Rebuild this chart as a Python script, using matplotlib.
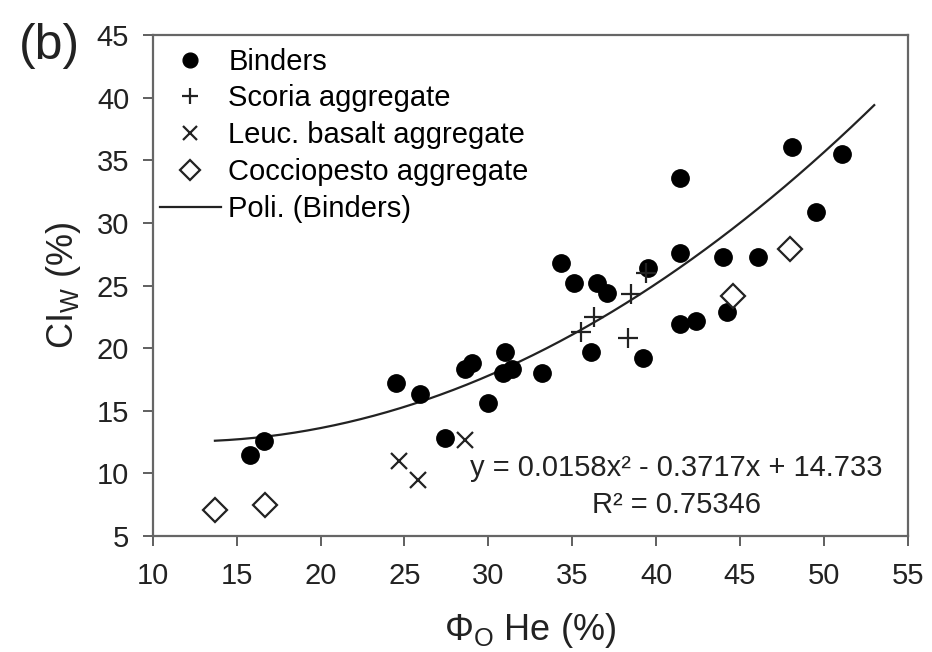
import matplotlib.pyplot as plt
import numpy as np

plt.rcParams['font.family'] = ['Liberation Sans', 'DejaVu Sans']
plt.rcParams['mathtext.fontset'] = 'custom'
plt.rcParams['mathtext.rm'] = 'Liberation Sans'

# Binders
bind_x = [15.8, 16.6, 24.5, 25.9, 27.4, 28.6, 29.0, 30.0, 30.9, 31.0, 31.4, 33.2,
          34.3, 35.1, 36.1, 36.5, 37.1, 39.2, 39.5, 41.4, 41.4, 41.4, 42.4, 44.0,
          44.2, 46.1, 48.1, 49.5, 51.1]
bind_y = [11.5, 12.6, 17.2, 16.3, 12.8, 18.3, 18.8, 15.6, 18.0, 19.7, 18.3, 18.0,
          26.8, 25.2, 19.7, 25.2, 24.4, 19.2, 26.4, 33.6, 27.6, 21.9, 22.2, 27.3,
          22.9, 27.3, 36.1, 30.9, 35.5]

# Scoria aggregate
scor_x = [35.5, 36.3, 38.3, 38.5, 39.4]
scor_y = [21.3, 22.5, 20.8, 24.3, 26.0]

# Leuc. basalt aggregate
leuc_x = [24.7, 25.8, 28.6]
leuc_y = [11.0, 9.5, 12.7]

# Cocciopesto aggregate
cocc_x = [13.7, 16.7, 44.6, 48.0]
cocc_y = [7.1, 7.5, 24.2, 27.9]

# polynomial fit of the binders
coef = [0.0158, -0.3717, 14.733]
fit_x = np.linspace(13.7, 53.0, 200)
fit_y = np.polyval(coef, fit_x)

fig = plt.figure(figsize=(9.32, 6.52), dpi=100)
ax = fig.add_axes([0.164, 0.178, 0.81, 0.768])

ax.plot(bind_x, bind_y, 'o', color='black', markersize=12.5, label='Binders', zorder=3)
ax.plot(scor_x, scor_y, '+', color='#222222', markersize=14, markeredgewidth=1.6,
        label='Scoria aggregate', zorder=3)
ax.plot(leuc_x, leuc_y, 'x', color='#222222', markersize=12, markeredgewidth=1.6,
        label='Leuc. basalt aggregate', zorder=3)
ax.plot(cocc_x, cocc_y, 'D', markerfacecolor='white', markeredgecolor='#222222',
        markersize=12, markeredgewidth=1.6, label='Cocciopesto aggregate', zorder=3)
ax.plot(fit_x, fit_y, '-', color='#222222', linewidth=1.6, label='Poli. (Binders)', zorder=2)

ax.set_xlim(10, 55)
ax.set_ylim(5, 45)
ax.set_xticks(np.arange(10, 56, 5))
ax.set_yticks(np.arange(5, 46, 5))
ax.tick_params(labelsize=21, direction='out', length=7, width=1.2, colors='#444444',
               labelcolor='#222222')
ax.tick_params(axis='x', pad=12)
ax.tick_params(axis='y', pad=10)
for s in ax.spines.values():
    s.set_color('#666666')
    s.set_linewidth(1.6)

ax.set_xlabel(r'$\Phi_\mathrm{O}$ He (%)', fontsize=26, color='#222222', labelpad=15)
ax.set_ylabel(r'CI$_\mathrm{W}$ (%)', fontsize=26, color='#222222', labelpad=10)

ax.text(41.2, 10.45, 'y = 0.0158x² - 0.3717x + 14.733', fontsize=21, color='#222222',
        ha='center', va='center')
ax.text(41.2, 7.5, 'R² = 0.75346', fontsize=21, color='#222222', ha='center', va='center')

fig.text(0.02, 0.93, '(b)', fontsize=36, color='#222222', va='center')

leg = ax.legend(loc='upper left', frameon=False, fontsize=21, handlelength=2.1,
                handletextpad=0.25, labelspacing=0.3, borderaxespad=0, borderpad=0,
                bbox_to_anchor=(0.009, 0.975), markerscale=0.85)

fig.savefig('out.png', dpi=100)
